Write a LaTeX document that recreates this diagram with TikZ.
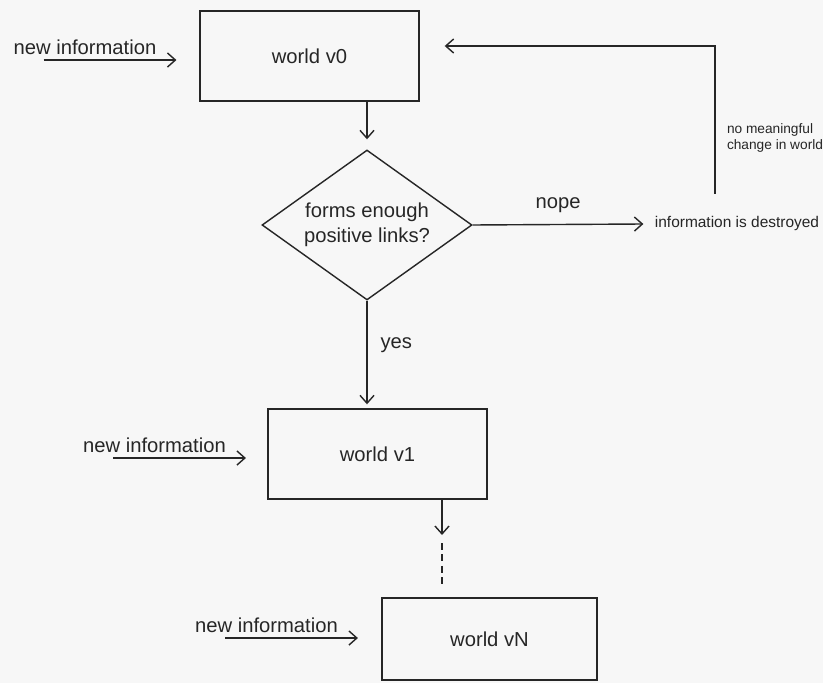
\documentclass[tikz,border=0pt]{standalone}
\usepackage{fontspec}
\setmainfont{Liberation Sans}
\usetikzlibrary{shapes.geometric, positioning, arrows.meta}

\begin{document}
\begin{tikzpicture}[line width=0.8pt, color=black!85,
    >={Straight Barb[length=4.5pt,width=8pt]},
    world/.style={draw, minimum width=4.38cm, minimum height=1.8cm, font=\fontsize{11.5}{14}\selectfont},
    check/.style={draw, diamond, aspect=1.4, inner sep=0pt, minimum width=4.2cm, minimum height=3cm,
      align=center, font=\fontsize{11.5}{14}\selectfont},
    feed/.style={inner sep=2.5pt, font=\fontsize{11.5}{14}\selectfont},
    note/.style={align=left, font=\fontsize{8.8}{10}\selectfont}]
  \fill[black!3] (0,0) rectangle (16.46,-13.66);
  \useasboundingbox (0,0) rectangle (16.46,-13.66);

  \node[world] (v0) at (6.19,-1.12) {world v0};
  \node[check] (dec) at (7.34,-4.5) {forms enough\\positive links?};
  \node[world] (v1) at (7.55,-9.08) {world v1};
  \node[world, minimum width=4.3cm, minimum height=1.64cm] (vN) at (9.79,-12.78) {world vN};
  \node[feed] (new0) at (1.7,-0.95) {new information};
  \node[feed] (new1) at (3.09,-8.91) {new information};
  \node[feed] (newN) at (5.33,-12.51) {new information};
  \node[note] (lost) at (14.74,-4.48) {information is destroyed};
  \node[note, font=\fontsize{7.8}{9.5}\selectfont] (why) at (15.5,-2.76) {no meaningful\\change in world};
  \coordinate (gap) at (8.84,-10.7);

  \foreach \n in {new0,new1,newN}
    \draw[->] ([xshift=0.7cm]\n.south west) -- ([xshift=0.3cm]\n.south east);
  \draw[->] (v0.south -| dec.north) -- ([yshift=0.2cm]dec.north);
  \draw[->] (dec.south) -- ([yshift=0.08cm]dec.south |- v1.north)
    node[pos=0.43, right=4pt, font=\fontsize{11.5}{14}\selectfont] {yes};
  \draw[->] (dec.east) -- ([xshift=-0.1cm]lost.west)
    node[midway, above=3pt, font=\fontsize{11.5}{14}\selectfont] {nope};
  \draw[->] ([xshift=-0.44cm, yshift=0.33cm]lost.north) |- ([xshift=0.5cm, yshift=0.2cm]v0.east);
  \draw[->] (v1.south -| gap) -- (gap);
  \draw[dash pattern=on 4pt off 2.5pt] ([yshift=-0.16cm]gap) -- ([yshift=0.26cm]vN.north -| gap);
\end{tikzpicture}
\end{document}
